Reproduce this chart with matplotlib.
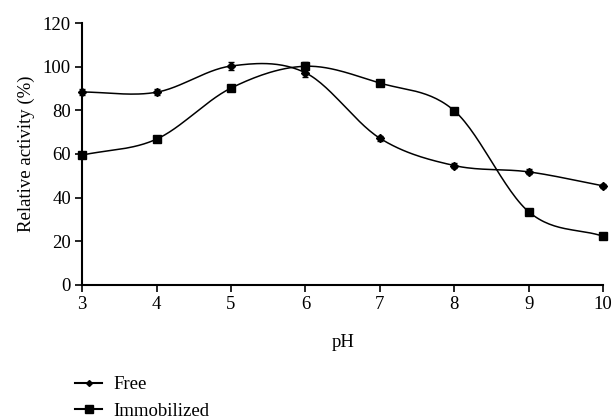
import numpy as np
import matplotlib.pyplot as plt
from matplotlib.lines import Line2D

plt.rcParams['font.family'] = ['Liberation Serif', 'DejaVu Serif']

ph = [3, 4, 5, 6, 7, 8, 9, 10]
free = [88.4, 88.3, 100.3, 97.2, 67.2, 54.7, 51.8, 45.4]
free_err = [1.5, 1.5, 2.0, 2.0, 1.2, 1.0, 1.2, 1.0]
immob = [59.5, 66.8, 90.2, 100.2, 92.5, 79.8, 33.5, 22.3]
immob_err = [1.0, 1.0, 1.5, 1.8, 1.5, 1.2, 1.0, 1.0]


def smooth(x, y, n=30):
    # catmull-rom style smoothing like a spreadsheet "smoothed line"
    x = np.asarray(x, float)
    y = np.asarray(y, float)
    px = np.concatenate([[2 * x[0] - x[1]], x, [2 * x[-1] - x[-2]]])
    py = np.concatenate([[2 * y[0] - y[1]], y, [2 * y[-1] - y[-2]]])
    xs, ys = [], []
    t = np.linspace(0, 1, n)
    for i in range(1, len(px) - 2):
        p0, p1, p2, p3 = [np.array([px[j], py[j]]) for j in range(i - 1, i + 3)]
        c1 = p1 + (p2 - p0) / 6
        c2 = p2 - (p3 - p1) / 6
        b = (np.outer((1 - t) ** 3, p1) + np.outer(3 * (1 - t) ** 2 * t, c1)
             + np.outer(3 * (1 - t) * t ** 2, c2) + np.outer(t ** 3, p2))
        xs.extend(b[:, 0])
        ys.extend(b[:, 1])
    return xs, ys


fs = 13.5
fig = plt.figure(figsize=(6.13, 4.19), dpi=100)
ax = fig.add_axes([0.134, 0.32, 0.85, 0.625])

for y, err, mk, ms in [(free, free_err, 'D', 4), (immob, immob_err, 's', 5.5)]:
    sx, sy = smooth(ph, y)
    ax.plot(sx, sy, color='black', lw=1.1)
    ax.errorbar(ph, y, yerr=err, fmt=mk, color='black', ms=ms, capsize=2.5,
                elinewidth=1, capthick=1, clip_on=False, zorder=3)

ax.set_xlim(3, 10)
ax.set_ylim(0, 120)
ax.set_xticks(ph)
ax.set_yticks(range(0, 121, 20))
ax.spines['top'].set_visible(False)
ax.spines['right'].set_visible(False)
ax.spines['left'].set_linewidth(1.5)
ax.spines['bottom'].set_linewidth(1.5)
ax.tick_params(direction='out', length=5, width=1.2, labelsize=fs, pad=3)
ax.set_xlabel('pH', fontsize=fs, labelpad=15)
ax.set_ylabel('Relative activity (%)', fontsize=fs, labelpad=6)

handles = [Line2D([], [], color='black', marker='D', ms=3, lw=1.5),
           Line2D([], [], color='black', marker='s', ms=6, lw=1.5)]
fig.legend(handles, ['Free', 'Immobilized'], loc='lower left',
           bbox_to_anchor=(0.095, -0.042), frameon=False, fontsize=fs,
           handlelength=1.45, handletextpad=0.6, labelspacing=0.5)

fig.savefig('out.png', dpi=100)
